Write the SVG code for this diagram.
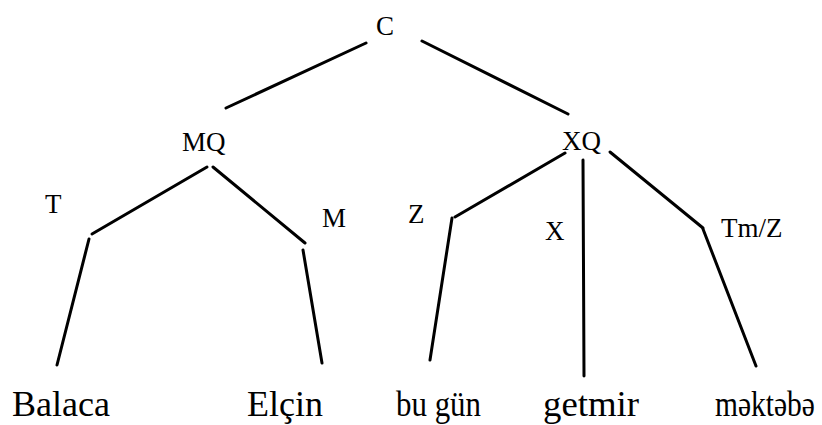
<svg xmlns="http://www.w3.org/2000/svg" width="822" height="425" viewBox="0 0 822 425">
<style>
text{font-family:'Liberation Serif','DejaVu Serif',serif;fill:#000}
.lbl{font-size:27px}
.word{font-size:36px}
.edge{stroke:#000;stroke-width:3;stroke-linecap:round;fill:none}
</style>
<rect width="822" height="425" fill="#fff"/>
<g id="connectors">
<line class="edge" x1="366" y1="43" x2="226" y2="108"/>
<line class="edge" x1="422" y1="41" x2="568" y2="114"/>
<line class="edge" x1="207" y1="167" x2="92" y2="234"/>
<line class="edge" x1="89" y1="239" x2="57" y2="365"/>
<line class="edge" x1="213" y1="167" x2="305" y2="243"/>
<line class="edge" x1="303" y1="250" x2="322" y2="363"/>
<line class="edge" x1="565" y1="153" x2="455" y2="217"/>
<line class="edge" x1="452" y1="218" x2="430" y2="360"/>
<line class="edge" x1="583" y1="160" x2="584" y2="376"/>
<line class="edge" x1="610" y1="152" x2="703" y2="228"/>
<line class="edge" x1="703" y1="229" x2="756" y2="366"/>
</g>
<g id="node-C"><text class="lbl" x="376" y="35">C</text></g>
<g id="node-MQ"><text class="lbl" x="182" y="151">MQ</text></g>
<g id="node-XQ"><text class="lbl" x="562" y="150">XQ</text></g>
<g id="node-T"><text class="lbl" x="45" y="213">T</text></g>
<g id="node-M"><text class="lbl" x="322" y="227">M</text></g>
<g id="node-Z"><text class="lbl" x="408" y="223">Z</text></g>
<g id="node-X"><text class="lbl" x="545" y="240">X</text></g>
<g id="node-TmZ"><text class="lbl" x="721" y="237">Tm/Z</text></g>
<g id="node-Balaca"><text class="word" x="12" y="416" textLength="98" lengthAdjust="spacingAndGlyphs">Balaca</text></g>
<g id="node-Elcin"><text class="word" x="247" y="416" textLength="76" lengthAdjust="spacingAndGlyphs">Elçin</text></g>
<g id="node-bugun"><text class="word" x="396" y="416" textLength="85" lengthAdjust="spacingAndGlyphs">bu gün</text></g>
<g id="node-getmir"><text class="word" x="543" y="416" textLength="96" lengthAdjust="spacingAndGlyphs">getmir</text></g>
<g id="node-mekteb"><text class="word" transform="translate(715,416) scale(0.82,1)" x="0" y="0">məktəbə</text></g>
</svg>
